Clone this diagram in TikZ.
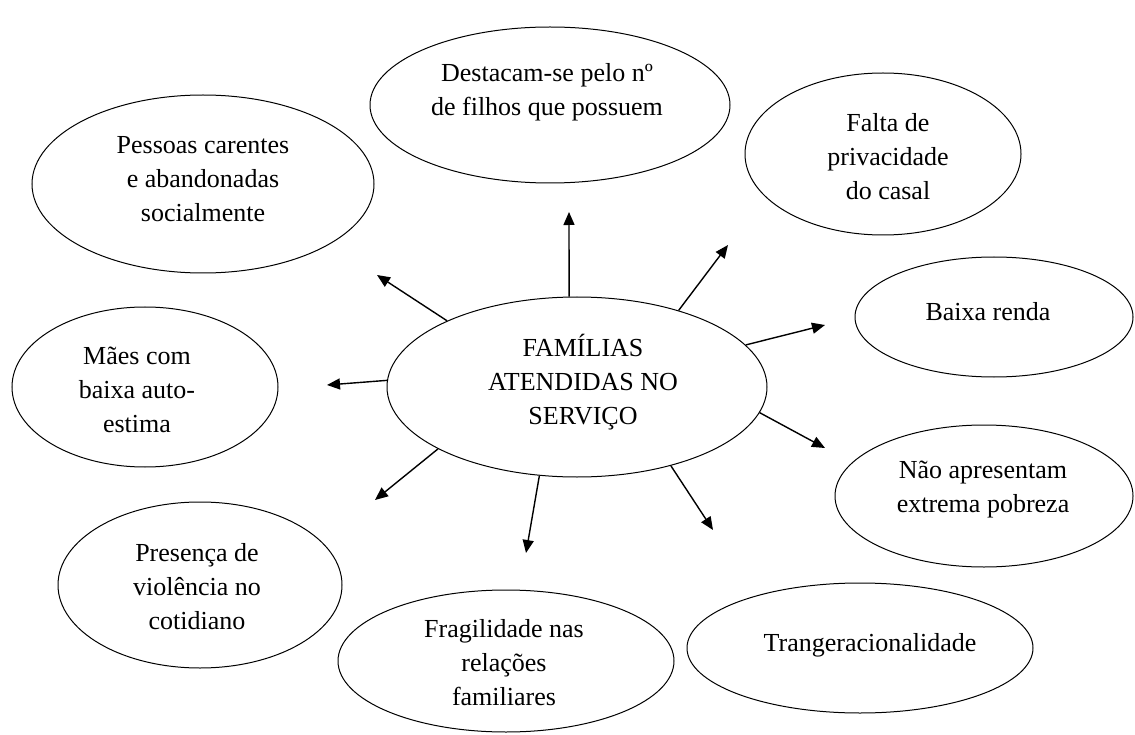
\documentclass[tikz,border=0pt]{standalone}
\usepackage{fontspec}
\setmainfont{Liberation Serif}
\usetikzlibrary{shapes.geometric,arrows.meta}
\begin{document}
\begin{tikzpicture}[x=1pt,y=-1pt,
  bub/.style={draw,ellipse,inner sep=0pt,line width=1pt},
  lbl/.style={align=center,font=\fontsize{26}{34}\selectfont,inner sep=0pt},
  arr/.style={line width=1.4pt,-{Triangle[length=13pt,width=11pt]}}]
\useasboundingbox (0,0) rectangle (1135,735);
% ellipses
\node[bub,minimum width=380pt,minimum height=180pt] (c)  at (577,387) {};
\node[bub,minimum width=360pt,minimum height=156pt] (d)  at (550,105) {};
\node[bub,minimum width=276pt,minimum height=162pt] (f)  at (883,154) {};
\node[bub,minimum width=342pt,minimum height=178pt] (p)  at (203,184) {};
\node[bub,minimum width=278pt,minimum height=120pt] (b)  at (994,317) {};
\node[bub,minimum width=266pt,minimum height=160pt] (m)  at (145,387) {};
\node[bub,minimum width=298pt,minimum height=142pt] (n)  at (984,496) {};
\node[bub,minimum width=284pt,minimum height=166pt] (pr) at (200,585) {};
\node[bub,minimum width=336pt,minimum height=142pt] (fr) at (506,661) {};
\node[bub,minimum width=346pt,minimum height=130pt] (t)  at (860,648) {};
% texts
\node[lbl] (c-t)  at (583,382) {FAMÍLIAS\\ATENDIDAS NO\\SERVIÇO};
\node[lbl] (d-t)  at (547,92)  {Destacam-se pelo nº\\de filhos que possuem};
\node[lbl] (f-t)  at (888,157) {Falta de\\privacidade\\do casal};
\node[lbl] (p-t)  at (203,179) {Pessoas carentes\\e abandonadas\\socialmente};
\node[lbl] (b-t)  at (988,312) {Baixa renda};
\node[lbl] (m-t)  at (137,390) {Mães com\\baixa auto-\\estima};
\node[lbl] (n-t)  at (983,490) {Não apresentam\\extrema pobreza};
\node[lbl] (pr-t) at (197,587) {Presença de\\violência no\\cotidiano};
\node[lbl] (fr-t) at (504,663) {Fragilidade nas\\relações\\familiares};
\node[lbl] (t-t)  at (870,645) {Trangeracionalidade};
% arrow tips
\coordinate (a1) at (569,212);
\coordinate (a2) at (728,245);
\coordinate (a3) at (825,325);
\coordinate (a4) at (825,448);
\coordinate (a5) at (713,530);
\coordinate (a6) at (526,553);
\coordinate (a7) at (375,500);
\coordinate (a8) at (327,385);
\coordinate (a9) at (377,275);
% arrows
\draw[arr] (c.95)    -- (a1);
\draw[arr] (c.37.5)  -- (a2);
\draw[arr] (c.14.7)  -- (a3);
\draw[arr] (c.-8.8)  -- (a4);
\draw[arr] (c.-40)   -- (a5);
\draw[arr] (c.-113.4)-- (a6);
\draw[arr] (c.204)   -- (a7);
\draw[arr] (c.178.8) -- (a8);
\draw[arr] (c.153.4) -- (a9);
\end{tikzpicture}
\end{document}
